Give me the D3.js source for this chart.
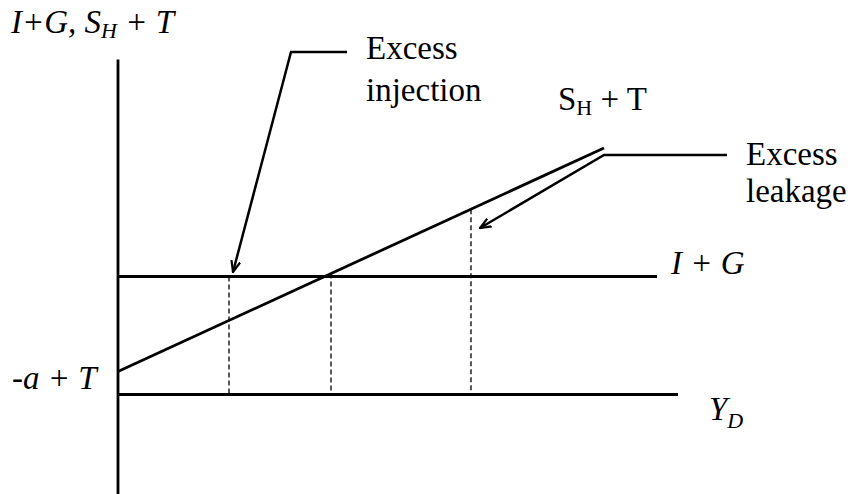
<!DOCTYPE html>
<html>
<head>
<meta charset="utf-8">
<script src="https://cdn.jsdelivr.net/npm/d3@7"></script>
<style>
  body { margin: 0; background: #fff; }
</style>
</head>
<body>
<svg width="857" height="494"></svg>
<script>
// diagram values (x = disposable income units, y = spending units)
const axisX = [0, 56];
const axisY = [-10, 33.5];
const injectionLevel = 11.8;       // I + G
const injectionEnd = 53.9;
const savingLine = [[0, 2.3], [48.6, 24.65]];   // S_H + T
const dropX = [11.1, 21.3, 35.3];
const injectionCallout = [[22.9, 34.25], [17.3, 34.25], [11.5, 12.25]];
const leakageCallout = [[60.9, 23.95], [48.6, 23.95], [36.2, 16.65]];

const svg = d3.select("svg");
const x = d3.scaleLinear().domain([0, 10]).range([118, 218]);
const y = d3.scaleLinear().domain([0, 10]).range([394.5, 294.5]);

const sy = v => savingLine[0][1] + (savingLine[1][1] - savingLine[0][1]) / (savingLine[1][0] - savingLine[0][0]) * v;
const line = d3.line().x(d => x(d[0])).y(d => y(d[1]));

svg.append("defs").append("marker")
    .attr("id", "arrow")
    .attr("markerUnits", "userSpaceOnUse")
    .attr("viewBox", "0 -6 12 12")
    .attr("refX", 11).attr("refY", 0)
    .attr("markerWidth", 12).attr("markerHeight", 12)
    .attr("orient", "auto")
    .append("path")
    .attr("d", "M0,-4.5L11,0L0,4.5")
    .attr("fill", "none")
    .attr("stroke", "#000")
    .attr("stroke-width", 2.2);

// dashed drop lines, from whichever schedule sits on top
svg.append("g").selectAll("line")
    .data(dropX)
    .enter().append("line")
    .attr("x1", d => x(d)).attr("x2", d => x(d))
    .attr("y1", d => y(Math.max(injectionLevel, sy(d))))
    .attr("y2", y(0))
    .attr("stroke", "#000")
    .attr("stroke-width", 1.3)
    .attr("stroke-dasharray", "5,3");

// axes
svg.append("line")
    .attr("x1", x(0)).attr("x2", x(0))
    .attr("y1", y(axisY[1])).attr("y2", y(axisY[0]))
    .attr("stroke", "#000").attr("stroke-width", 2.8);
svg.append("line")
    .attr("x1", x(axisX[0])).attr("x2", x(axisX[1]))
    .attr("y1", y(0)).attr("y2", y(0))
    .attr("stroke", "#000").attr("stroke-width", 2.8);

// I + G
svg.append("line")
    .attr("x1", x(0)).attr("x2", x(injectionEnd))
    .attr("y1", y(injectionLevel)).attr("y2", y(injectionLevel))
    .attr("stroke", "#000").attr("stroke-width", 2.8);

// S_H + T
svg.append("path")
    .attr("d", line(savingLine))
    .attr("fill", "none").attr("stroke", "#000").attr("stroke-width", 2.8);

// callouts
svg.selectAll(".callout")
    .data([injectionCallout, leakageCallout])
    .enter().append("path")
    .attr("class", "callout")
    .attr("d", d => line(d))
    .attr("fill", "none")
    .attr("stroke", "#000")
    .attr("stroke-width", 2.5)
    .attr("marker-end", "url(#arrow)");

// labels
const fs = 33;
function label(px, py, italic) {
    return svg.append("text")
        .attr("x", px).attr("y", py)
        .style("font-family", "Liberation Serif")
        .attr("font-size", fs)
        .attr("font-style", italic ? "italic" : "normal")
        .attr("fill", "#000");
}

let t = label(11, 33, true);
t.append("tspan").text("I+G, S");
t.append("tspan").attr("dy", 5).attr("font-size", 22).text("H");
t.append("tspan").attr("dy", -5).text(" + T");

t = label(558, 110, false);
t.append("tspan").text("S");
t.append("tspan").attr("dy", 5).attr("font-size", 22).text("H");
t.append("tspan").attr("dy", -5).text(" + T");

label(366, 59, false).text("Excess");
label(366, 101, false).text("injection");
label(746, 165, false).text("Excess");
label(746, 202, false).text("leakage");

label(671, 274, true).text("I + G");

t = label(709, 420, true);
t.append("tspan").text("Y");
t.append("tspan").attr("dy", 8).attr("font-size", 22).text("D");

label(12, 389, true).text("-a + T");
</script>
</body>
</html>
